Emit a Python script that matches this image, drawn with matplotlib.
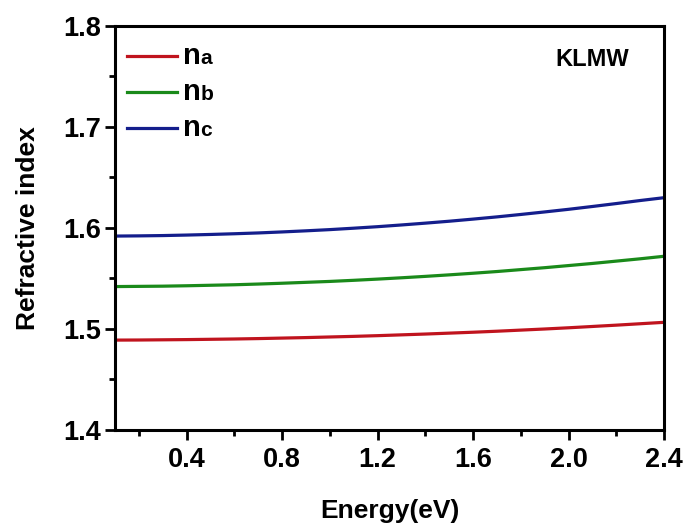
import matplotlib
matplotlib.use("Agg")
import matplotlib.pyplot as plt
from matplotlib.offsetbox import (AnchoredOffsetbox, DrawingArea, HPacker,
                                  TextArea, VPacker)
from matplotlib.lines import Line2D
from matplotlib.ticker import MultipleLocator

plt.rcParams['font.family'] = ['Liberation Sans', 'DejaVu Sans']

energy = [0.1, 0.2, 0.3, 0.4, 0.5, 0.6, 0.7, 0.8, 0.9, 1.0, 1.1, 1.2,
          1.3, 1.4, 1.5, 1.6, 1.7, 1.8, 1.9, 2.0, 2.1, 2.2, 2.3, 2.4]
n_a = [1.4890, 1.4891, 1.4893, 1.4895, 1.4898, 1.4901, 1.4905, 1.4910,
       1.4915, 1.4921, 1.4927, 1.4934, 1.4942, 1.4950, 1.4959, 1.4968,
       1.4978, 1.4989, 1.5000, 1.5012, 1.5025, 1.5038, 1.5052, 1.5066]
n_b = [1.5420, 1.5422, 1.5424, 1.5428, 1.5433, 1.5438, 1.5445, 1.5453,
       1.5462, 1.5471, 1.5482, 1.5494, 1.5507, 1.5521, 1.5536, 1.5552,
       1.5569, 1.5588, 1.5607, 1.5628, 1.5649, 1.5672, 1.5695, 1.5720]
n_c = [1.5920, 1.5922, 1.5925, 1.5930, 1.5936, 1.5943, 1.5951, 1.5961,
       1.5972, 1.5984, 1.5998, 1.6013, 1.6030, 1.6048, 1.6067, 1.6088,
       1.6110, 1.6134, 1.6159, 1.6185, 1.6213, 1.6242, 1.6272, 1.6300]
xtick_vals = [0.4, 0.8, 1.2, 1.6, 2.0, 2.4]
xtick_labels = ['0.4', '0.8', '1.2', '1.6', '2.0', '2.4']

series = [(n_a, '#c0141e', 'a'), (n_b, '#1a8a1a', 'b'), (n_c, '#141e8c', 'c')]

fig = plt.figure(figsize=(6.88, 5.24), dpi=100)
ax = fig.add_axes([0.1672, 0.1794, 0.798, 0.771])

for vals, col, sub in series:
    ax.plot(energy, vals, color=col, lw=2.3)

ax.set_xlim(0.1, 2.4)
ax.set_ylim(1.4, 1.8)
ax.set_xticks(xtick_vals)
ax.set_xticklabels(xtick_labels)
ax.xaxis.set_minor_locator(MultipleLocator(0.2))
ax.yaxis.set_major_locator(MultipleLocator(0.1))
ax.yaxis.set_minor_locator(MultipleLocator(0.05))

for s in ax.spines.values():
    s.set_linewidth(2.2)
ax.tick_params(which='major', direction='out', length=7, width=2,
               labelsize=19.5, pad=3)
ax.tick_params(which='minor', direction='out', length=4.5, width=2)
ax.tick_params(axis='x', which='major', pad=5)
for lab in ax.get_xticklabels() + ax.get_yticklabels():
    lab.set_fontweight('bold')

ax.set_xlabel('Energy(eV)', fontsize=19, fontweight='bold', labelpad=19)
ax.set_ylabel('Refractive index', fontsize=19, fontweight='bold', labelpad=17)

ax.text(0.869, 0.918, 'KLMW', transform=ax.transAxes, ha='center', va='center',
        fontsize=17, fontweight='bold')

# legend with "n" + small suffix on the same baseline
rows = []
for vals, col, sub in series:
    da = DrawingArea(36, 8, 0, 0)
    da.add_artist(Line2D([0, 36], [4, 4], color=col, lw=2.3))
    t1 = TextArea('n', textprops=dict(fontsize=21, fontweight='bold'))
    t2 = TextArea(sub, textprops=dict(fontsize=15, fontweight='bold'))
    txt = HPacker(children=[t1, t2], align='baseline', pad=0, sep=0)
    rows.append(HPacker(children=[da, txt], align='center', pad=0, sep=4))
box = VPacker(children=rows, align='left', pad=0, sep=6)
anch = AnchoredOffsetbox(loc='upper left', child=box, frameon=False,
                         bbox_to_anchor=(0.012, 0.975), bbox_transform=ax.transAxes,
                         borderpad=0)
ax.add_artist(anch)

fig.savefig('out.png', dpi=100)
